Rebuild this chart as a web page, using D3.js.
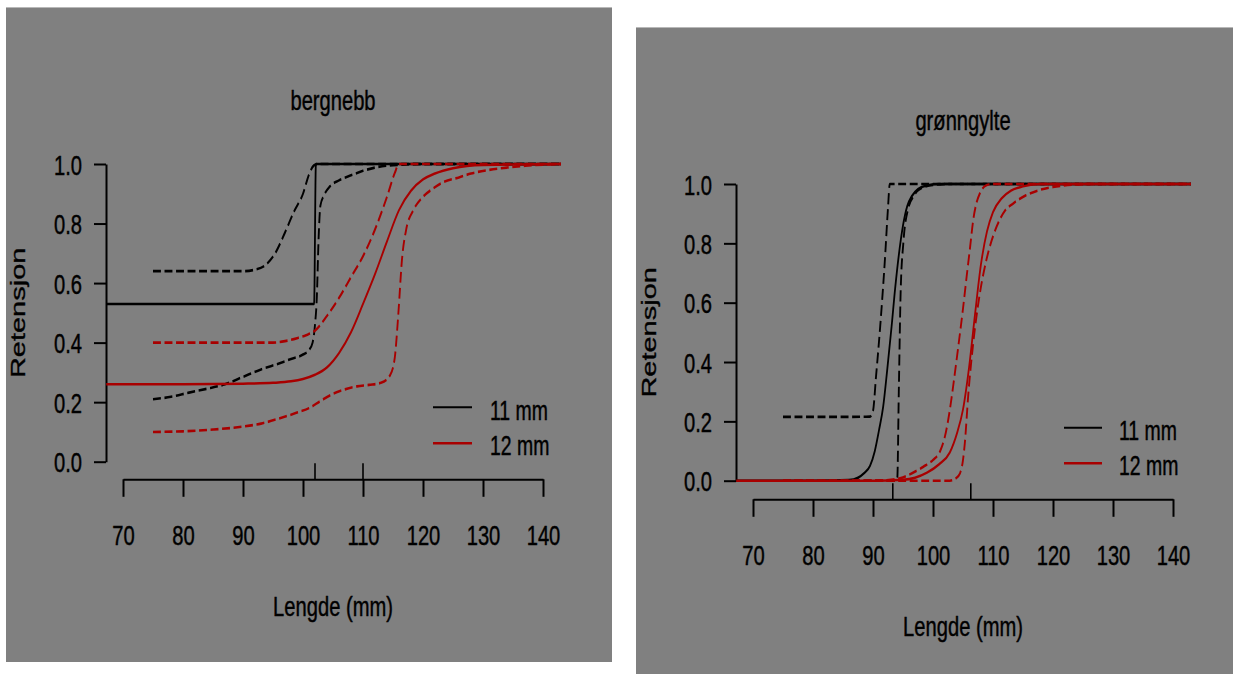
<!DOCTYPE html>
<html><head><meta charset="utf-8">
<script src="https://cdn.jsdelivr.net/npm/d3@7"></script>
<style>
body{margin:0;background:#fff;}
svg{display:block;}
text{font-family:"Liberation Sans",Arial,Helvetica,sans-serif;fill:#000;stroke:#000;stroke-width:0.45px;}
</style>
</head><body>
<svg id="chart" width="1233" height="674"></svg>
<script>
// ---------- data ----------
const xTicks = [70, 80, 90, 100, 110, 120, 130, 140];
const yTicks = [0, 0.2, 0.4, 0.6, 0.8, 1.0];
const legendLabels = ["11 mm", "12 mm"];
const titles = ["bergnebb", "grønngylte"];
const xLabel = "Lengde (mm)";
const yLabel = "Retensjon";

// bergnebb, 11 mm: fit, upper, lower
const b11FitX = [67.2, 80, 90, 101.85, 102.15, 110, 143];
const b11FitY = [0.53, 0.53, 0.53, 0.53, 1, 1, 1];
const b11UpX = [75, 80, 85, 90, 92, 94, 95.5, 97, 98.5, 100, 101, 101.8, 102.5, 110, 143];
const b11UpY = [0.64, 0.64, 0.64, 0.64, 0.645, 0.665, 0.705, 0.77, 0.84, 0.9, 0.965, 0.995, 1, 1, 1];
const b11LoX = [75, 78, 81, 84, 87, 90, 93, 96, 98, 100, 101, 101.6, 102, 102.3, 102.6, 102.9, 103.5, 104.5, 106, 108, 110, 112, 115, 120, 143];
const b11LoY = [0.21, 0.218, 0.232, 0.245, 0.26, 0.285, 0.31, 0.33, 0.345, 0.36, 0.375, 0.4, 0.46, 0.55, 0.75, 0.86, 0.895, 0.925, 0.945, 0.962, 0.977, 0.988, 0.996, 1, 1];
// bergnebb, 12 mm
const b12FitX = [67.2, 80, 90, 95, 98, 100, 102, 104, 106, 108, 110, 112, 114, 116, 118, 120, 122, 125, 130, 143];
const b12FitY = [0.26, 0.26, 0.262, 0.265, 0.27, 0.278, 0.292, 0.317, 0.365, 0.435, 0.53, 0.63, 0.74, 0.845, 0.91, 0.948, 0.968, 0.986, 0.997, 1];
const b12UpX = [75, 80, 85, 90, 95, 97, 99, 100.5, 102, 104, 106, 108, 110, 112, 114, 115.3, 116, 120, 143];
const b12UpY = [0.4, 0.4, 0.4, 0.4, 0.4, 0.405, 0.415, 0.425, 0.44, 0.49, 0.55, 0.62, 0.69, 0.78, 0.89, 0.97, 1, 1, 1];
const b12LoX = [75, 80, 85, 90, 93, 96, 99, 101, 103, 105, 107, 109, 111, 113, 114.5, 115.3, 115.9, 116.5, 117.2, 118.4, 120, 121.5, 123.5, 126, 128, 131, 134, 137, 143];
const b12LoY = [0.1, 0.102, 0.108, 0.118, 0.128, 0.145, 0.165, 0.18, 0.205, 0.228, 0.243, 0.253, 0.258, 0.265, 0.29, 0.35, 0.5, 0.68, 0.78, 0.845, 0.89, 0.915, 0.94, 0.955, 0.968, 0.98, 0.988, 0.994, 1];
const bergL50 = [102, 110];

// grønngylte, 11 mm
const g11FitX = [67.2, 80, 86, 87.5, 88.5, 89.5, 90.3, 91, 91.7, 92.4, 93.1, 93.7, 94.3, 95, 95.7, 96.5, 97.5, 99, 101, 110, 143];
const g11FitY = [0, 0, 0.002, 0.01, 0.025, 0.05, 0.1, 0.17, 0.25, 0.38, 0.52, 0.65, 0.76, 0.86, 0.925, 0.96, 0.983, 0.995, 1, 1, 1];
const g11UpX = [75, 80, 85, 89.5, 90, 90.5, 91.2, 92, 92.5, 92.8, 95, 143];
const g11UpY = [0.215, 0.215, 0.215, 0.216, 0.235, 0.35, 0.52, 0.75, 0.92, 1, 1, 1];
const g11LoX = [75, 85, 93.5, 94.05, 94.3, 94.6, 95.05, 95.9, 96.8, 97.6, 100, 103, 110, 143];
const g11LoY = [0, 0, 0, 0.01, 0.3, 0.63, 0.8, 0.92, 0.96, 0.98, 0.997, 1, 1, 1];
// grønngylte, 12 mm
const g12FitX = [67.2, 80, 90, 95, 97, 99, 101, 102.8, 104, 105, 106, 107, 108, 109, 110, 111.5, 113, 115, 118, 143];
const g12FitY = [0, 0, 0, 0.003, 0.01, 0.027, 0.055, 0.095, 0.16, 0.24, 0.38, 0.56, 0.73, 0.84, 0.905, 0.953, 0.978, 0.992, 1, 1];
const g12UpX = [75, 90, 93, 94.5, 96.5, 98.4, 100, 101.2, 102, 102.8, 103.5, 104.2, 105, 105.6, 106.2, 106.7, 107.3, 107.8, 108.9, 110, 143];
const g12UpY = [0, 0, 0.003, 0.008, 0.025, 0.047, 0.07, 0.1, 0.15, 0.238, 0.34, 0.45, 0.58, 0.687, 0.79, 0.878, 0.94, 0.968, 0.996, 1, 1];
const g12LoX = [75, 90, 102.8, 103.8, 104.5, 105, 105.3, 105.9, 106.7, 107.8, 108.9, 110.6, 112, 113.4, 115.5, 117.8, 120, 123.4, 126, 143];
const g12LoY = [0, 0, 0, 0.008, 0.025, 0.07, 0.126, 0.295, 0.463, 0.63, 0.744, 0.856, 0.91, 0.935, 0.962, 0.98, 0.99, 0.998, 1, 1];
const gronnL50 = [93.3, 106.3];

// ---------- layout / style ----------
const K = 0.72;           // horizontal squeeze of the picture
const FS = 28;
const BLACK = "#000000", RED = "#a80000", BG = "#808080";
const panels = [
  { title: titles[0], rect: [6, 7, 606, 655], x0: 123, x1: 543, yTop: 164, yBot: 461.7,
    yAxisX: 106, xAxisY: 479.3, titleY: 109.5, ylabX: 25,
    leg: { x0: 433, x1: 472, ys: [407.3, 443.3], tx: 490, ty: [420, 455] },
    curves: [
      { x: b11FitX, y: b11FitY, c: BLACK, dash: false },
      { x: b11UpX, y: b11UpY, c: BLACK, dash: true },
      { x: b11LoX, y: b11LoY, c: BLACK, dash: true },
      { x: b12FitX, y: b12FitY, c: RED, dash: false },
      { x: b12UpX, y: b12UpY, c: RED, dash: true },
      { x: b12LoX, y: b12LoY, c: RED, dash: true }
    ], rug: bergL50 },
  { title: titles[1], rect: [636, 27, 597, 647], x0: 753, x1: 1173, yTop: 184, yBot: 480.7,
    yAxisX: 736, xAxisY: 499.3, titleY: 129.5, ylabX: 655.5,
    leg: { x0: 1064, x1: 1102, ys: [427.7, 463.3], tx: 1119, ty: [440, 475] },
    curves: [
      { x: g11FitX, y: g11FitY, c: BLACK, dash: false },
      { x: g11UpX, y: g11UpY, c: BLACK, dash: true },
      { x: g11LoX, y: g11LoY, c: BLACK, dash: true },
      { x: g12FitX, y: g12FitY, c: RED, dash: false },
      { x: g12UpX, y: g12UpY, c: RED, dash: true },
      { x: g12LoX, y: g12LoY, c: RED, dash: true }
    ], rug: gronnL50 }
];

const svg = d3.select("#chart");
svg.append("rect").attr("width", 1233).attr("height", 674).attr("fill", "#fff");

panels.forEach(p => {
  const g = svg.append("g");
  g.append("rect").attr("x", p.rect[0]).attr("y", p.rect[1])
    .attr("width", p.rect[2]).attr("height", p.rect[3]).attr("fill", BG);
  g.append("line").attr("x1", p.rect[0]).attr("x2", p.rect[0] + p.rect[2])
    .attr("y1", p.rect[1] + 0.5).attr("y2", p.rect[1] + 0.5)
    .attr("stroke", "#b8b8b8").attr("stroke-width", 1);

  const x = d3.scaleLinear().domain([70, 140]).range([p.x0, p.x1]);
  const y = d3.scaleLinear().domain([0, 1]).range([p.yBot, p.yTop]);

  // y axis
  const ya = g.append("g").attr("transform", `translate(${p.yAxisX},0)`)
    .call(d3.axisLeft(y).tickValues(yTicks).tickFormat(d3.format(".1f")).tickSize(12).tickSizeOuter(0));
  ya.attr("font-size", null).attr("font-family", null);
  ya.select(".domain").attr("stroke", BLACK).attr("stroke-width", 2);
  ya.selectAll(".tick line").attr("stroke", BLACK).attr("stroke-width", 2);
  ya.selectAll(".tick text").attr("x", null).attr("dy", null)
    .attr("fill", BLACK).attr("font-size", FS).attr("text-anchor", "end")
    .attr("transform", `translate(-24,10) scale(${K},1)`);

  // x axis
  const xa = g.append("g").attr("transform", `translate(0,${p.xAxisY})`)
    .call(d3.axisBottom(x).tickValues(xTicks).tickFormat(d3.format("d")).tickSize(17.5).tickSizeOuter(0));
  xa.attr("font-size", null).attr("font-family", null);
  xa.select(".domain").attr("stroke", BLACK).attr("stroke-width", 2);
  xa.selectAll(".tick line").attr("stroke", BLACK).attr("stroke-width", 2);
  xa.selectAll(".tick text").attr("y", null).attr("dy", null)
    .attr("fill", BLACK).attr("font-size", FS).attr("text-anchor", "middle")
    .attr("transform", `translate(0,65.7) scale(${K},1)`);

  // L50 marks above x axis
  g.selectAll("line.rug").data(p.rug).join("line").attr("class", "rug")
    .attr("x1", d => x(d)).attr("x2", d => x(d))
    .attr("y1", p.xAxisY).attr("y2", p.xAxisY - 16)
    .attr("stroke", BLACK).attr("stroke-width", 1.6);

  // curves drawn in unsqueezed coordinates, then squeezed horizontally
  const xs = d3.scaleLinear().domain([70, 140]).range([p.x0 / K, p.x1 / K]);
  const line = d3.line().x(d => xs(d[0])).y(d => y(d[1])).curve(d3.curveMonotoneX);
  const cg = g.append("g").attr("transform", `scale(${K},1)`);
  p.curves.forEach(c => {
    cg.append("path").attr("d", line(d3.zip(c.x, c.y)))
      .attr("fill", "none").attr("stroke", c.c)
      .attr("stroke-width", c.dash ? 2.6 : 2.5)
      .attr("stroke-dasharray", c.dash ? "11,5" : null);
  });

  // title
  g.append("text").attr("text-anchor", "middle").attr("font-size", FS)
    .attr("transform", `translate(${(p.x0 + p.x1) / 2},${p.titleY}) scale(${K},1)`)
    .text(p.title);
  // x label
  g.append("text").attr("text-anchor", "middle").attr("font-size", FS)
    .attr("transform", `translate(${(p.x0 + p.x1) / 2},${p.xAxisY + 136.4}) scale(${K},1)`)
    .text(xLabel);
  // y label
  g.append("text").attr("text-anchor", "middle").attr("font-size", FS + 1)
    .attr("transform", `translate(${p.ylabX},${(p.yTop + p.yBot) / 2}) scale(${K},1) rotate(-90)`)
    .text(yLabel);

  // legend
  const legColors = [BLACK, RED];
  legendLabels.forEach((lab, i) => {
    g.append("line").attr("x1", p.leg.x0).attr("x2", p.leg.x1)
      .attr("y1", p.leg.ys[i]).attr("y2", p.leg.ys[i])
      .attr("stroke", legColors[i]).attr("stroke-width", i === 0 ? 2 : 2.6);
    g.append("text").attr("font-size", FS - 1)
      .attr("transform", `translate(${p.leg.tx},${p.leg.ty[i]}) scale(${K},1)`)
      .text(lab);
  });
});
</script>
</body></html>
